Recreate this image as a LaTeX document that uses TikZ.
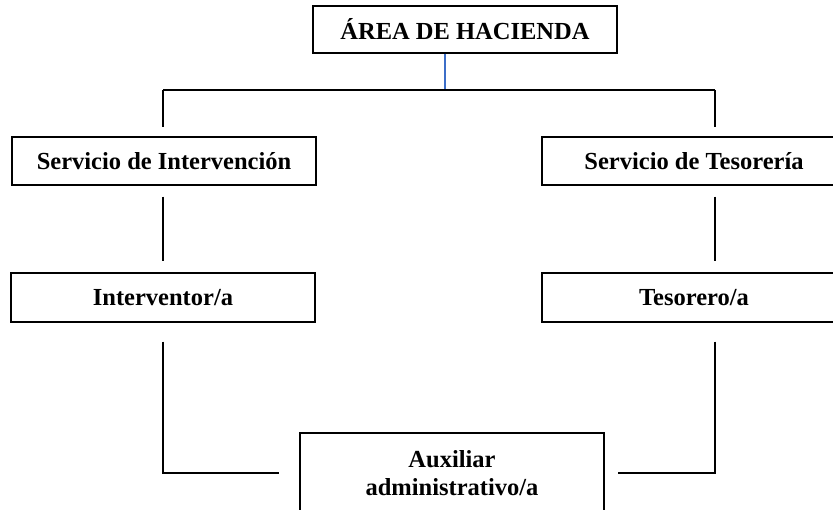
\documentclass[tikz,border=0pt]{standalone}
\usepackage{fontspec}
\setmainfont{Liberation Serif}
\definecolor{enlace}{RGB}{60,110,200}

\begin{document}
\begin{tikzpicture}[x=1pt,y=-1pt,
  caja/.style={draw,line width=1.5pt,minimum width=304pt,inner sep=0pt,
    align=center,font=\fontsize{24.5}{28}\selectfont\bfseries},
  linea/.style={line width=1.5pt}]
  \useasboundingbox (0,0) rectangle (833,510);
  % cajas
  \node[caja,minimum height=47pt] (area) at (465,29.5) {ÁREA DE HACIENDA};
  \node[caja,minimum height=48pt] (servint) at (164,161) {Servicio de Intervención};
  \node[caja,minimum height=48pt] (servtes) at (694,161) {Servicio de Tesorería};
  \node[caja,minimum height=49pt] (interv) at (163,297.5) {Interventor/a};
  \node[caja,minimum height=49pt] (tesor) at (694,297.5) {Tesorero/a};
  \node[caja,minimum height=80pt] (aux) at (452,473) {Auxiliar\\administrativo/a};
  % ramas
  \coordinate (nudo) at (445,90);
  \coordinate (izq) at (163,90);
  \coordinate (der) at (715,90);
  \draw[enlace,line width=1.4pt]
    (area.south -| nudo)
    --
    (nudo);
  \draw[linea]
    (izq)
    --
    (der);
  \draw[linea,shorten >=9pt]
    (izq)
    --
    (izq |- servint.north);
  \draw[linea,shorten >=9pt]
    (der)
    --
    (der |- servtes.north);
  \draw[linea,shorten <=11pt,shorten >=11pt]
    (servint.south -| izq)
    --
    (interv.north -| izq);
  \draw[linea,shorten <=11pt,shorten >=11pt]
    (servtes.south -| der)
    --
    (tesor.north -| der);
  \draw[linea,shorten <=19pt,shorten >=20pt]
    (interv.south -| izq)
    |-
    (aux.west);
  \draw[linea,shorten <=19pt,shorten >=13pt]
    (tesor.south -| der)
    |-
    (aux.east);
\end{tikzpicture}
\end{document}
